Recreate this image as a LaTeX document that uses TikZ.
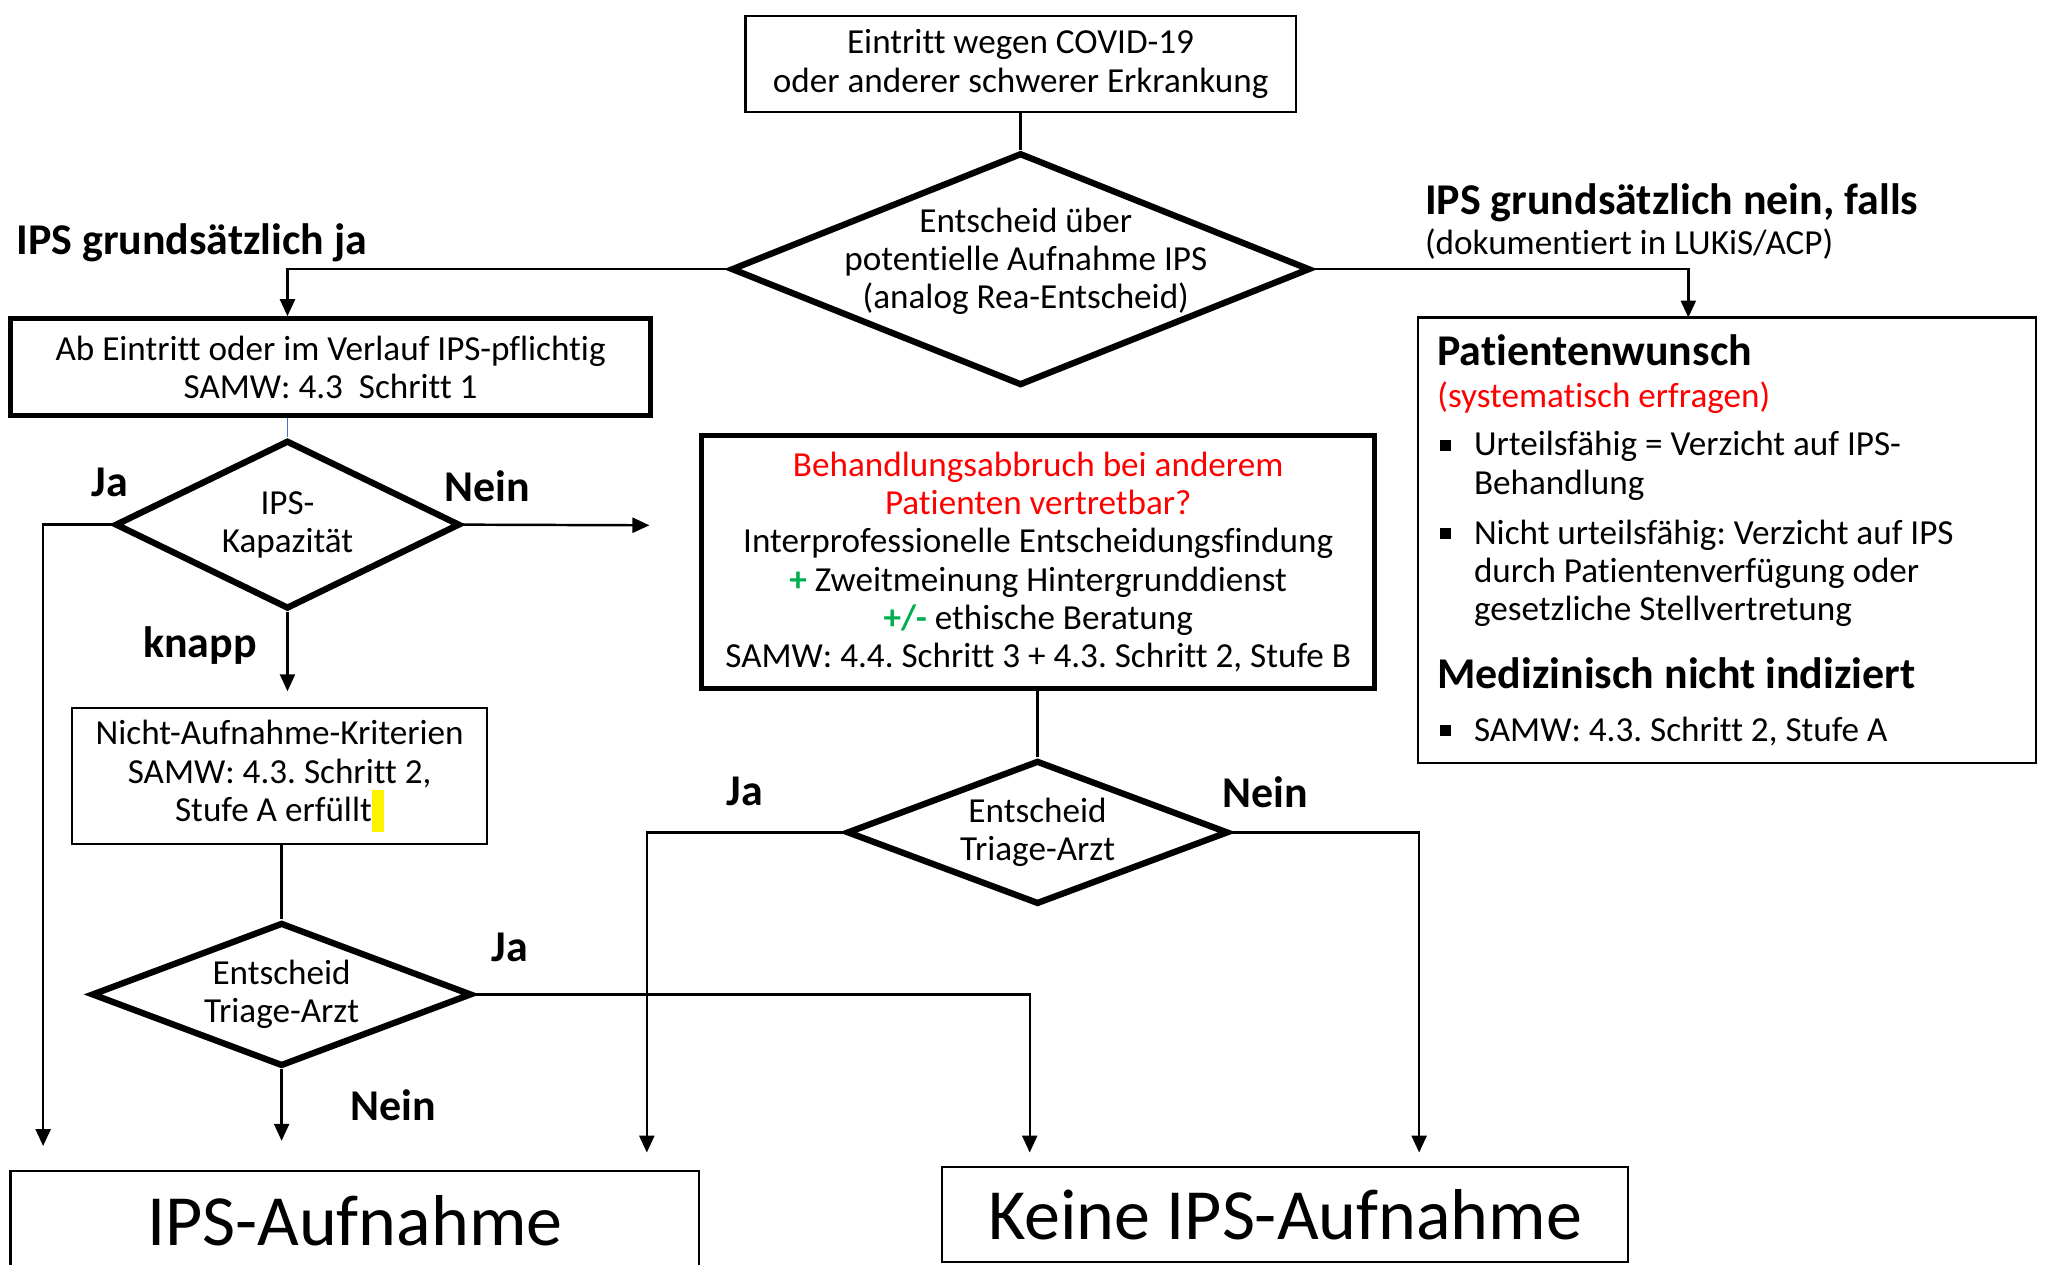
\documentclass[tikz,border=0pt]{standalone}
\usepackage{fontspec}
\setmainfont{Carlito}[Ligatures=NoCommon]
\usetikzlibrary{shapes.geometric,arrows.meta}
\definecolor{ogreen}{RGB}{0,176,80}
\definecolor{lineblue}{RGB}{68,114,196}
\newcommand\blt{\makebox[10.4pt][l]{\hspace{0.8pt}\rule[0.15em]{3pt}{3pt}}}
\newcommand\ind{\hspace*{10.4pt}}
\frenchspacing
\begin{document}
\begin{tikzpicture}[x=0.13068mm, y=-0.13068mm, >={Triangle[length=1.7mm,width=1.5mm]},
	font=\fontsize{10}{10.9}\selectfont,
	box/.style={draw, line width=0.6pt, align=center, inner sep=0pt},
	bbox/.style={box, line width=1.5pt},
	dec/.style={diamond, draw, line width=1.8pt, inner sep=0pt},
	conn/.style={line width=0.7pt},
	lbl/.style={font=\fontsize{12.5}{13.5}\selectfont\bfseries, inner sep=0pt}]
				\def\pu{0.13068mm}
				\useasboundingbox (0,0) rectangle (1568,968);
				% boxes
				\node[box, minimum width={421*\pu}, minimum height={74*\pu}] (eintritt) at (781,49) {Eintritt wegen COVID-19\\oder anderer schwerer Erkrankung};
				\node[bbox, minimum width={490*\pu}, minimum height={74*\pu}] (pflicht) at (253,281) {Ab Eintritt oder im Verlauf IPS-pflichtig\\SAMW: 4.3~~Schritt 1};
				\node[box, minimum width={318*\pu}, minimum height={104*\pu}] (krit) at (214,594) {Nicht-Aufnahme-Kriterien\\SAMW: 4.3. Schritt 2,\\Stufe A erfüllt\textcolor{yellow}{\rule[-0.3em]{0.35em}{1.2em}}};
				\node[bbox, minimum width={515*\pu}, minimum height={194*\pu}] (mid) at (794.5,430) {\textcolor{red}{Behandlungsabbruch bei anderem}\\\textcolor{red}{Patienten vertretbar?}\\Interprofessionelle Entscheidungsfindung\\\textcolor{ogreen}{\textbf{+}} Zweitmeinung Hintergrunddienst\\\textcolor{ogreen}{\textbf{+/-}} ethische Beratung\\SAMW: 4.4. Schritt 3 + 4.3. Schritt 2, Stufe B};
				\node[box, align=flush left, text width={443*\pu}, inner xsep={15*\pu}, minimum height={341*\pu}] (wunsch) at (1321.5,413.5) {{\fontsize{12.5}{13.5}\selectfont\bfseries Patientenwunsch}\\[1pt]
					\textcolor{red}{(systematisch erfragen)}\\[2.8pt]
					\blt Urteilsfähig = Verzicht auf IPS-\\\ind Behandlung\\[3.3pt]
					\blt Nicht urteilsfähig: Verzicht auf IPS\\\ind durch Patientenverfügung oder\\\ind gesetzliche Stellvertretung\\[8.4pt]
					{\fontsize{12.5}{13.5}\selectfont\bfseries Medizinisch nicht indiziert}\\[4pt]
					\blt SAMW: 4.3. Schritt 2, Stufe A};
				\node[box, minimum width={527*\pu}, minimum height={76*\pu}, font=\fontsize{20.5}{22}\selectfont] (ips) at (271.5,934) {IPS-Aufnahme};
				\node[box, minimum width={525*\pu}, minimum height={73*\pu}, font=\fontsize{20.5}{22}\selectfont] (keine) at (983.5,929.5) {Keine IPS-Aufnahme};
				% decisions
				\node[dec, minimum width={443*\pu}, minimum height={178*\pu}] (entscheid) at (781,206) {};
				\node[align=center, inner sep=0pt] (entscheidtxt) at (785,200) {Entscheid über\\potentielle Aufnahme IPS\\(analog Rea-Entscheid)};
				\node[dec, minimum width={264*\pu}, minimum height={129*\pu}] (kap) at (220,401.5) {};
				\node[align=center, inner sep=0pt] (kaptxt) at (kap) {IPS-\\Kapazität};
				\node[dec, minimum width={291*\pu}, minimum height={110*\pu}] (triageA) at (215.5,761) {};
				\node[align=center, inner sep=0pt] (triageAtxt) at (triageA) {Entscheid\\Triage-Arzt};
				\node[dec, minimum width={292*\pu}, minimum height={110*\pu}] (triageB) at (794,637) {};
				\node[align=center, inner sep=0pt] (triageBtxt) at (triageB) {Entscheid\\Triage-Arzt};
				% free ends
				\path (1292,243) coordinate (wunschin) (33,877) coordinate (kapja) (497,402) coordinate (kapnein) (220,529) coordinate (kapknapp)
					(788,882) coordinate (triageAja) (215.5,873) coordinate (triageAnein) (495,882) coordinate (triageBja) (1086,882) coordinate (triageBnein);
				% connectors
				\draw[conn] (eintritt)--(entscheid);
				\draw[conn,->] (entscheid.west)-|(pflicht.north -| kap.north);
				\draw[conn,->] (entscheid.east)-|(wunschin);
				\draw[conn, lineblue, line width=0.5pt] (pflicht.south -| kap.north)--(kap.north);
				\draw[conn,->] (kap.west)-|(kapja);
				\draw[conn,->] (kap.east)--(kapnein);
				\draw[conn,->] (kap.south)--(kapknapp);
				\draw[conn] (krit.south -| triageA.north)--(triageA.north);
				\draw[conn,->] (triageA.east)-|(triageAja);
				\draw[conn,->] (triageA.south)--(triageAnein);
				\draw[conn] (mid.south -| triageB.north)--(triageB.north);
				\draw[conn,->] (triageB.west)-|(triageBja);
				\draw[conn,->] (triageB.east)-|(triageBnein);
				% labels
				\node[lbl, anchor=west] (ipsja) at (12,186) {IPS grundsätzlich ja};
				\node[lbl, anchor=west] (ipsnein) at (1090,155) {IPS grundsätzlich nein, falls};
				\node[anchor=west, inner sep=0pt] (doku) at (1090,187) {(dokumentiert in LUKiS/ACP)};
				\foreach \t/\p [count=\i] in {Ja/{84,369}, Nein/{373,372}, knapp/{153,494}, Ja/{390,725}, Nein/{301,846}, Ja/{570,606}, Nein/{968,606}}{
					\node[lbl] (antwort\i) at (\p) {\t};}
			\end{tikzpicture}
\end{document}
